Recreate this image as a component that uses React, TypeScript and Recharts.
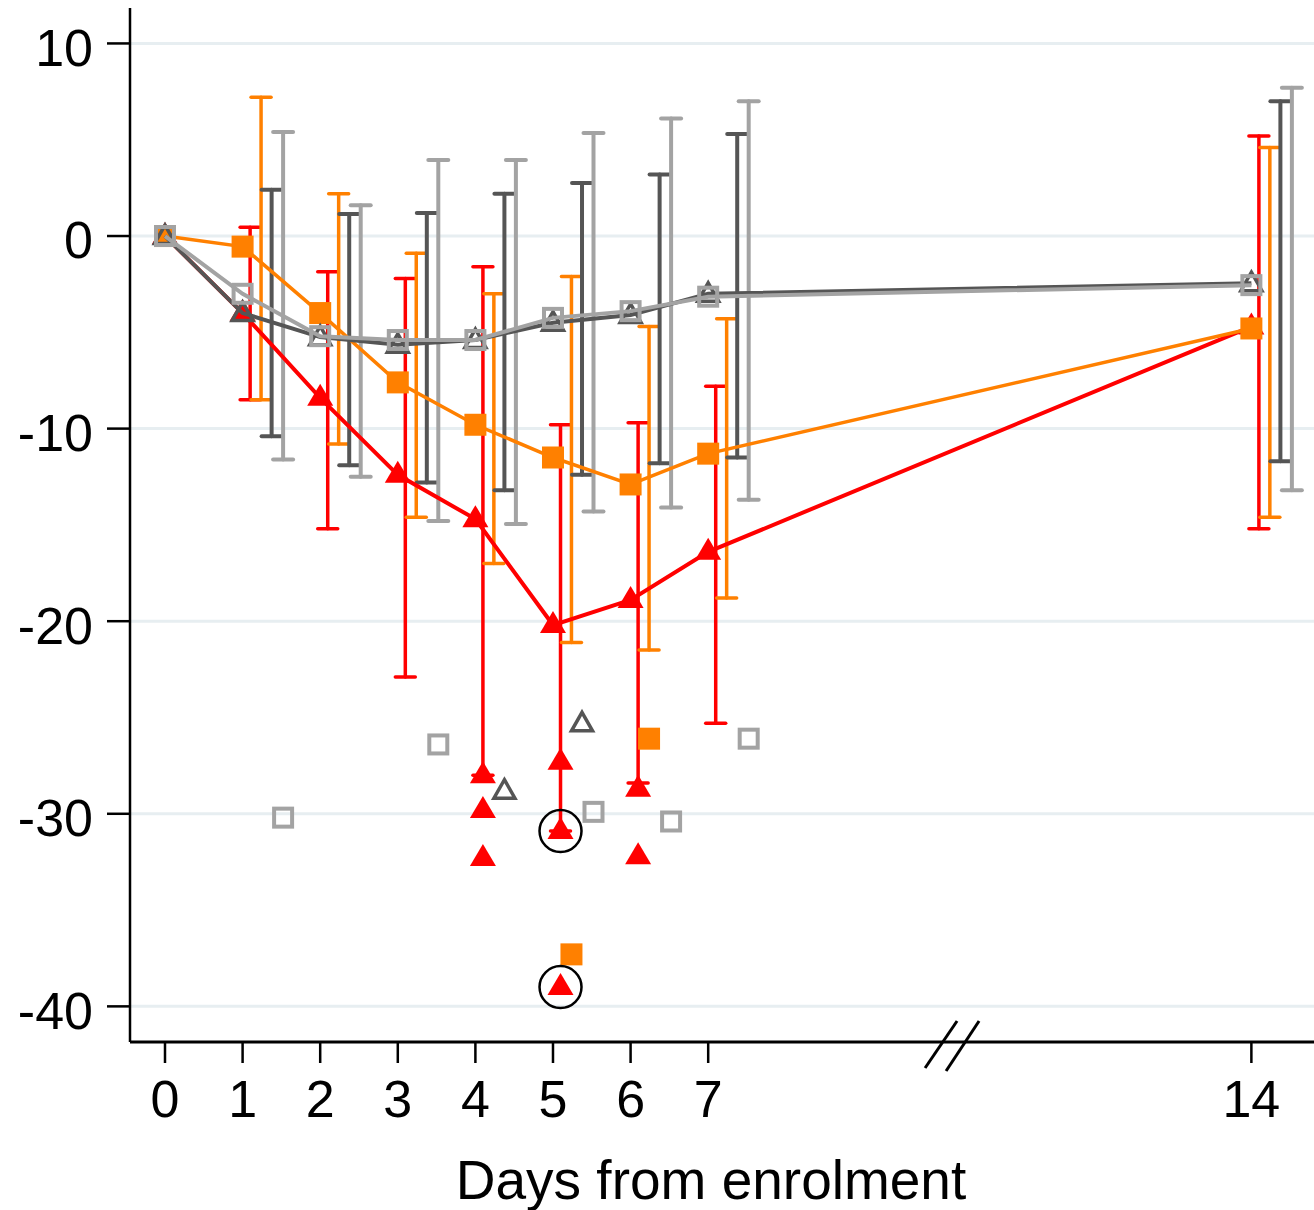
import React from 'react';
import { ComposedChart, Scatter, XAxis, YAxis, CartesianGrid, ErrorBar, ReferenceDot } from 'recharts';

// ---- data ----
const days = [0, 1, 2, 3, 4, 5, 6, 7, 14];
const xTicks = [0, 1, 2, 3, 4, 5, 6, 7, 14];
const yTicks = [-40, -30, -20, -10, 0, 10];

const redMean = [0, -4.0, -8.4, -12.4, -14.7, -20.2, -18.9, -16.4, -4.7];
const orangeMean = [0, -0.55, -4.0, -7.6, -9.8, -11.5, -12.9, -11.3, -4.8];
const darkMean = [0, -4.0, -5.25, -5.65, -5.4, -4.5, -4.1, -3.0, -2.45];
const lightMean = [0, -3.0, -5.2, -5.4, -5.4, -4.25, -3.9, -3.15, -2.55];

const whiskerDays = [1, 2, 3, 4, 5, 6, 7, 14];
const redLow = [-8.5, -15.2, -22.9, -28.0, -30.9, -28.4, -25.3, -15.2];
const redHigh = [0.45, -1.85, -2.2, -1.6, -9.8, -9.7, -7.8, 5.2];
const orangeLow = [-8.5, -10.8, -14.6, -17.0, -21.1, -21.5, -18.8, -14.6];
const orangeHigh = [7.2, 2.2, -0.9, -3.0, -2.1, -4.7, -4.3, 4.6];
const darkLow = [-10.4, -11.9, -12.8, -13.2, -12.4, -11.8, -11.5, -11.7];
const darkHigh = [2.4, 1.15, 1.2, 2.2, 2.75, 3.2, 5.3, 7.0];
const lightLow = [-11.6, -12.5, -14.8, -14.95, -14.3, -14.1, -13.7, -13.2];
const lightHigh = [5.4, 1.6, 3.95, 3.95, 5.35, 6.1, 7.0, 7.7];

const redOutDays = [4, 4, 4, 5, 5, 5, 6, 6];
const redOutVals = [-28.0, -29.8, -32.3, -27.3, -30.9, -39.0, -28.7, -32.2];
const orangeOutDays = [5, 6];
const orangeOutVals = [-37.3, -26.1];
const darkOutDays = [4, 5];
const darkOutVals = [-28.8, -25.3];
const lightOutDays = [1, 3, 5, 6, 7];
const lightOutVals = [-30.2, -26.4, -29.9, -30.4, -26.1];

const circledDays = [5, 5];
const circledVals = [-30.9, -39.0];

// ---- layout / style ----
const X_MIN = -0.451;
const X_MAX = 14.807;
const Y_MIN = -41.85;
const Y_MAX = 11.84;
const OFF_RED = 0.097;
const OFF_ORANGE = 0.238;
const OFF_DARK = 0.374;
const OFF_LIGHT = 0.522;
const BREAK_X = 10.13;

const RED = '#ff0000';
const ORANGE = '#ff8000';
const DARK = '#555555';
const LIGHT = '#a3a3a3';
const GRID = '#e7eef1';
const FONT = '"Liberation Sans", Arial, Helvetica, sans-serif';

const meanData = (vals: number[]) => days.map((d, i) => ({ x: d, y: vals[i] }));
const whiskData = (lo: number[], hi: number[], off: number) =>
  whiskerDays.map((d, i) => ({ x: d + off, y: lo[i], err: [0, hi[i] - lo[i]] }));
const outData = (ds: number[], vs: number[], off: number) => ds.map((d, i) => ({ x: d + off, y: vs[i] }));

const noShape = () => <g />;

const triFilled = (color: string) => (p: any) => {
  const { cx, cy } = p;
  if (cx == null || cy == null) return <g />;
  return <polygon points={`${cx},${cy - 14} ${cx + 13},${cy + 8} ${cx - 13},${cy + 8}`} fill={color} stroke="none" />;
};
const sqFilled = (color: string) => (p: any) => {
  const { cx, cy } = p;
  if (cx == null || cy == null) return <g />;
  return <rect x={cx - 11} y={cy - 11} width={22} height={22} fill={color} stroke="none" />;
};
const triHollow = (color: string) => (p: any) => {
  const { cx, cy } = p;
  if (cx == null || cy == null) return <g />;
  return (
    <polygon
      points={`${cx},${cy - 11} ${cx + 10.5},${cy + 7.5} ${cx - 10.5},${cy + 7.5}`}
      fill="none"
      stroke={color}
      strokeWidth={3.5}
    />
  );
};
const sqHollow = (color: string) => (p: any) => {
  const { cx, cy } = p;
  if (cx == null || cy == null) return <g />;
  return <rect x={cx - 9} y={cy - 9} width={18} height={18} fill="none" stroke={color} strokeWidth={4} />;
};
const ring = (p: any) => {
  const { cx, cy } = p;
  if (cx == null || cy == null) return <g />;
  return <circle cx={cx} cy={cy} r={21} fill="none" stroke="#000" strokeWidth={2.5} />;
};

const YTick = (p: any) => {
  const { x, y, payload } = p;
  return (
    <text x={x} y={y + 4} dy="0.355em" textAnchor="end" fontSize={52} fontFamily={FONT} fill="#000">
      {payload.value}
    </text>
  );
};

const XTick = (p: any) => {
  const { x, y, payload } = p;
  return (
    <text x={x} y={y} dy="0.71em" textAnchor="middle" fontSize={52} fontFamily={FONT} fill="#000">
      {payload.value}
    </text>
  );
};

const BreakMark = (p: any) => {
  const { cx, cy } = p;
  if (cx == null || cy == null) return <g />;
  return (
    <g stroke="#000" strokeWidth={3}>
      <line x1={cx - 26} y1={cy + 26} x2={cx + 6} y2={cy - 21} />
      <line x1={cx - 5} y1={cy + 29} x2={cx + 28} y2={cy - 21} />
    </g>
  );
};

const whiskers: [number[], number[], number, string, number][] = [
  [redLow, redHigh, OFF_RED, RED, 3.5],
  [orangeLow, orangeHigh, OFF_ORANGE, ORANGE, 3.5],
  [darkLow, darkHigh, OFF_DARK, DARK, 4],
  [lightLow, lightHigh, OFF_LIGHT, LIGHT, 4],
];

const meanSeries: [number[], string, any, number][] = [
  [redMean, RED, triFilled(RED), 4],
  [orangeMean, ORANGE, sqFilled(ORANGE), 3.5],
  [darkMean, DARK, triHollow(DARK), 4],
  [lightMean, LIGHT, sqHollow(LIGHT), 4],
];

export default function App() {
  return (
    <div style={{ position: 'absolute', left: 0, top: 0, width: 1314, height: 1210, background: '#fff' }}>
      <ComposedChart width={1314} height={1210} margin={{ top: 8, right: 0, bottom: 68, left: 0 }}>
        <CartesianGrid horizontal vertical={false} horizontalValues={yTicks} stroke={GRID} strokeWidth={3} />
        <XAxis
          type="number"
          dataKey="x"
          domain={[X_MIN, X_MAX]}
          ticks={xTicks}
          interval={0}
          allowDataOverflow
          height={100}
          tickSize={21}
          tickMargin={17}
          axisLine={{ stroke: '#000', strokeWidth: 3 }}
          tickLine={{ stroke: '#000', strokeWidth: 2.5 }}
          tick={<XTick />}
          label={{
            value: 'Days from enrolment',
            position: 'bottom',
            offset: 18,
            dx: -11,
            fontSize: 55,
            fill: '#000',
            fontFamily: FONT,
          }}
        />
        <YAxis
          type="number"
          dataKey="y"
          domain={[Y_MIN, Y_MAX]}
          ticks={yTicks}
          interval={0}
          allowDataOverflow
          width={130}
          tickSize={23}
          tickMargin={14}
          axisLine={{ stroke: '#000', strokeWidth: 2.5 }}
          tickLine={{ stroke: '#000', strokeWidth: 2.5 }}
          tick={<YTick />}
        />
        {whiskers.map(([lo, hi, off, color, sw], i) => (
          <Scatter key={'w' + i} data={whiskData(lo, hi, off)} shape={noShape} isAnimationActive={false}>
            <ErrorBar
              dataKey="err"
              direction="y"
              width={10}
              stroke={color}
              strokeWidth={sw}
              strokeLinecap="round"
              isAnimationActive={false}
            />
          </Scatter>
        ))}
        {meanSeries.map(([vals, color, shape, sw], i) => (
          <Scatter
            key={'m' + i}
            data={meanData(vals)}
            shape={shape}
            stroke={color}
            strokeWidth={sw}
            fill={color}
            line={{ stroke: color, strokeWidth: sw }}
            lineType="joint"
            isAnimationActive={false}
          />
        ))}
        <Scatter data={outData(redOutDays, redOutVals, OFF_RED)} shape={triFilled(RED)} isAnimationActive={false} />
        <Scatter data={outData(orangeOutDays, orangeOutVals, OFF_ORANGE)} shape={sqFilled(ORANGE)} isAnimationActive={false} />
        <Scatter data={outData(darkOutDays, darkOutVals, OFF_DARK)} shape={triHollow(DARK)} isAnimationActive={false} />
        <Scatter data={outData(lightOutDays, lightOutVals, OFF_LIGHT)} shape={sqHollow(LIGHT)} isAnimationActive={false} />
        <Scatter data={outData(circledDays, circledVals, OFF_RED)} shape={ring} isAnimationActive={false} />
        <ReferenceDot x={BREAK_X} y={Y_MIN} r={0} ifOverflow="visible" shape={BreakMark} />
      </ComposedChart>
    </div>
  );
}
